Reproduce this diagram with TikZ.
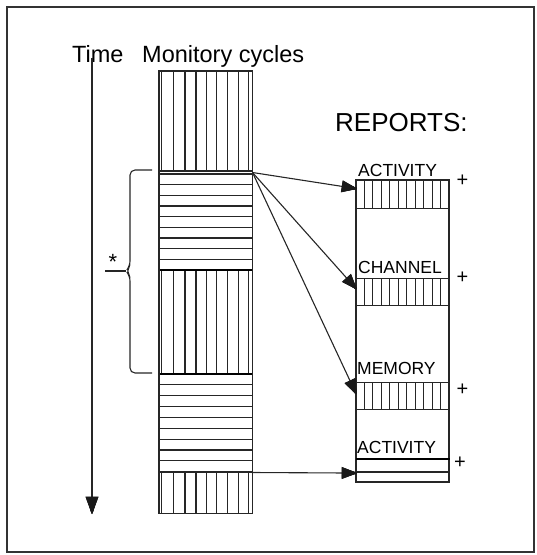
\documentclass[tikz,border=0pt]{standalone}
\usepackage{fontspec}
\setmainfont{Liberation Sans}
\usetikzlibrary{calc}
% arrowhead at #2 pointing away from #1: length #3, half width #4
\newcommand\flowtip[4]{%
  \filldraw[black!90, line width=0.8pt, line join=miter]
    (#2) -- ($(#2)!#3!(#1)!#4!90:(#1)$) -- ($(#2)!#3!(#1)!#4!-90:(#1)$) -- cycle;
  \foreach \s in {-0.95,-0.85,...,0.96} {
    \draw[black!90, line width=1.2pt] (#2) -- ($(#2)!#3!(#1)!{\s*#4}!90:(#1)$);
  }}
\begin{document}
\begin{tikzpicture}[x=1pt,y=1pt,
  ln/.style={line width=1.1pt, draw=black!85},
  heavy/.style={line width=2.6pt, draw=black},
  head/.style={anchor=base west, inner sep=0pt, font=\fontsize{23.5}{26}\selectfont},
  lbl/.style={anchor=base west, inner sep=0pt, font=\fontsize{17.5}{20}\selectfont},
  plus/.style={inner sep=0pt, font=\fontsize{20}{22}\selectfont},
  cell/.style={draw=black!85, line width=1.1pt, inner sep=0pt, minimum width=93pt, anchor=north west},
]
\useasboundingbox (0,0) rectangle (537,-555);
% frame
\draw[line width=1.4pt, black!80] (7,-7) rectangle (534,-552);

% headings
\node[head] (time) at (72,-62) {Time};
\node[head] (cycles) at (142,-62) {Monitory cycles};
\node[anchor=base west, inner sep=0pt, font=\fontsize{26}{30}\selectfont] (reports) at (335,-131) {REPORTS:};

% time axis
\coordinate (t0) at (92,-58);
\coordinate (t1) at (92,-513);
\draw[ln] (t0) -- ($(t1)!8pt!(t0)$);
\flowtip{t0}{t1}{16pt}{6pt}

% monitoring cycles column
\node[draw=none, inner sep=0pt, minimum width=93pt, minimum height=442pt, anchor=north west] (col) at (159,-71) {};
\foreach \x in {161.7,173.3,185,196,206.7,216.7,227.3,238.3,248.3} {
  \draw[ln] (\x,-71) -- (\x,-171);
  \draw[ln] (\x,-270) -- (\x,-374);
  \draw[ln] (\x,-472) -- (\x,-513);
}
\foreach \k in {1,...,8} {
  \draw[ln] (159,{-174-\k*10.67}) -- (252,{-174-\k*10.67});
  \draw[ln] (159,{-374-\k*10.85}) -- (252,{-374-\k*10.85});
}
\draw[ln] (159,-171) -- (252,-171);
\draw[ln] (159,-174) -- (252,-174);
\draw[ln] (159,-472) -- (252,-472);
\draw[heavy] (159,-270) -- (252,-270);
\draw[heavy] (159,-374) -- (252,-374);
\draw[ln] (col.north west) rectangle (col.south east);

% brace with star
\draw[line width=1.1pt, black!85, rounded corners=5pt]
  (152,-170) -- (130,-170) -- (130,-266) -- (126,-271) -- (130,-276) -- (130,-373) -- (152,-373);
\coordinate (bcusp) at (126,-271);
\coordinate (bstub) at (105,-271);
\draw[line width=1.1pt, black!85] (bcusp) -- (bstub);
\node[inner sep=0pt, font=\fontsize{22}{24}\selectfont] (star) at (113,-262) {*};

% report stack
\draw[ln] (356,-180) rectangle (449,-482);
\node[cell, minimum height=28pt] (act1) at (356,-180) {};
\node[cell, minimum height=27pt] (chan) at (356,-278) {};
\node[cell, minimum height=27pt] (mem) at (356,-382) {};
\node[cell, minimum height=23pt] (act2) at (356,-459) {};
\foreach \b in {act1,chan,mem} {
  \foreach \k in {1,...,10} {
    \draw[ln] ([xshift={\k*8.45pt}]\b.north west) -- ([xshift={\k*8.45pt}]\b.south west);
  }
}
\draw[line width=2pt, black] (act2.north west) -- (act2.north east);
\draw[ln] (356,-472) -- (449,-472);

\node[lbl] (lact1) at (358,-176) {ACTIVITY};
\node[lbl] (lchan) at (358,-273) {CHANNEL};
\node[lbl] (lmem) at (357,-374) {MEMORY};
\node[lbl] (lact2) at (357,-453) {ACTIVITY};

\node[plus] (p1) at (462.5,-181) {+};
\node[plus] (p2) at (462.5,-278) {+};
\node[plus] (p3) at (462.5,-390) {+};
\node[plus] (p4) at (460,-463) {+};

% data flow from the cycles to the reports
\coordinate (fan) at (252.5,-172.5);
\coordinate (last) at (252,-472.5);
\coordinate (e1) at ([yshift=6pt]act1.west);
\coordinate (e2) at ([yshift=3.5pt]chan.west);
\coordinate (e3) at ([yshift=2.5pt]mem.west);
\coordinate (e4) at ([yshift=-2pt]act2.west);
\draw[ln] (fan) -- ($(e1)!7pt!(fan)$);
\draw[ln] (fan) -- ($(e2)!7pt!(fan)$);
\draw[ln] (fan) -- ($(e3)!7pt!(fan)$);
\draw[ln] (last) -- ($(e4)!7pt!(last)$);
\flowtip{fan}{e1}{14pt}{5.5pt}
\flowtip{fan}{e2}{14pt}{5.5pt}
\flowtip{fan}{e3}{14pt}{5.5pt}
\flowtip{last}{e4}{14pt}{5.5pt}
\end{tikzpicture}
\end{document}
